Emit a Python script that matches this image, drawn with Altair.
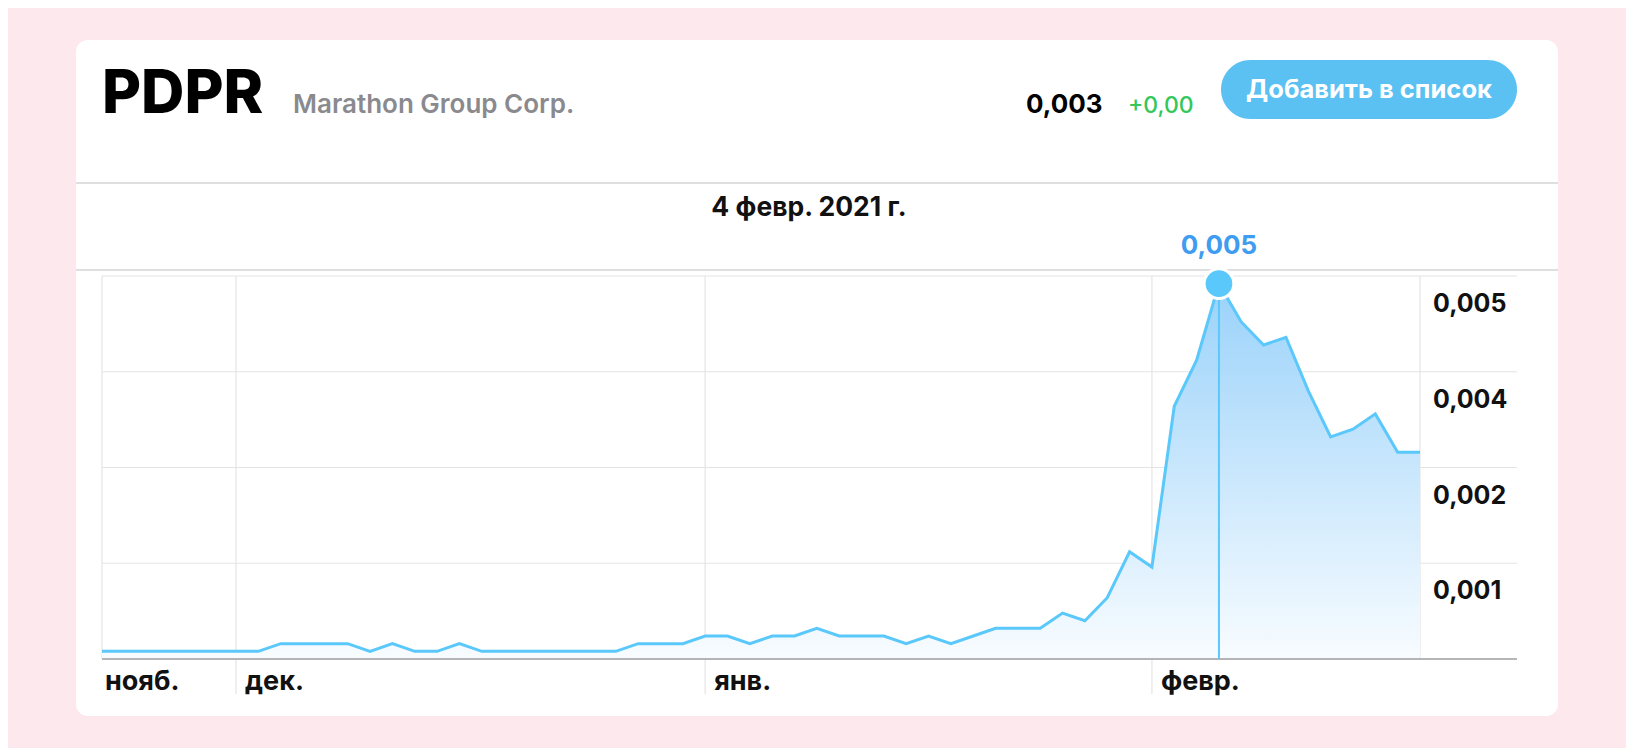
import altair as alt
import pandas as pd

# ---- data ----
prices = [
    0.0001, 0.0001, 0.0001, 0.0001, 0.0001, 0.0001, 0.0001, 0.0001,
    0.0002, 0.0002, 0.0002, 0.0002, 0.0001, 0.0002, 0.0001, 0.0001,
    0.0002, 0.0001, 0.0001, 0.0001, 0.0001, 0.0001, 0.0001, 0.0001,
    0.0002, 0.0002, 0.0002, 0.0003, 0.0003, 0.0002, 0.0003, 0.0003,
    0.0004, 0.0003, 0.0003, 0.0003, 0.0002, 0.0003, 0.0002, 0.0003,
    0.0004, 0.0004, 0.0004, 0.0006, 0.0005, 0.0008, 0.0014, 0.0012,
    0.0033, 0.0039, 0.0049, 0.0044, 0.0041, 0.0042, 0.0035, 0.0029,
    0.0030, 0.0032, 0.0027, 0.0027,
]
month_idx = [0, 6, 27, 47]
month_names = ["нояб.", "дек.", "янв.", "февр."]
y_ticks = [0.00125, 0.0025, 0.00375, 0.005]
y_tick_labels = ["0,001", "0,002", "0,004", "0,005"]
peak_idx = 50
peak_label = "0,005"
ticker = "PDPR"
company = "Marathon Group Corp."
last_price = "0,003"
change = "+0,00"
button_text = "Добавить в список"
date_text = "4 февр. 2021 г."

FONT = "Inter"
LINE_COLOR = "#5ac8fa"

df = pd.DataFrame({"i": list(range(len(prices))), "price": prices})
peak_df = pd.DataFrame({"i": [peak_idx], "price": [prices[peak_idx]], "label": [peak_label]})
first_month_df = pd.DataFrame({"i": month_idx[:1], "name": month_names[:1]})
other_months_df = pd.DataFrame({"i": month_idx[1:], "name": month_names[1:]})
edges_df = pd.DataFrame({"i": [0, len(prices) - 1]})
ygrid_df = pd.DataFrame({"v": y_ticks, "label": y_tick_labels})
zero_df = pd.DataFrame({"v": [0.0]})
one = pd.DataFrame({"k": [0]})

W, H = 1618, 740
xs = alt.Scale(domain=[0, len(prices) - 1], range=[94, 1412], nice=False, zero=False)
ys = alt.Scale(domain=[0, 0.005], range=[651, 268], nice=False, zero=False)

card = alt.Chart(one).mark_rect(fill="white", cornerRadius=12).encode(
    x=alt.value(68), x2=alt.value(1550), y=alt.value(32), y2=alt.value(708))

sep1 = alt.Chart(one).mark_rule(color="#d4d4d8", strokeWidth=1.5).encode(
    x=alt.value(68), x2=alt.value(1550), y=alt.value(175))
sep2 = alt.Chart(one).mark_rule(color="#d4d4d8", strokeWidth=1.5).encode(
    x=alt.value(68), x2=alt.value(1550), y=alt.value(262))

hgrid = alt.Chart(ygrid_df).mark_rule(color="#e4e4e6", strokeWidth=1.2).encode(
    y=alt.Y("v:Q", scale=ys, axis=None), x=alt.value(94), x2=alt.value(1509))

vgrid = alt.Chart(other_months_df).mark_rule(color="#e4e4e6", strokeWidth=1.2).encode(
    x=alt.X("i:Q", scale=xs, axis=None), y=alt.value(268), y2=alt.value(686))
vedges = alt.Chart(edges_df).mark_rule(color="#e4e4e6", strokeWidth=1.2).encode(
    x=alt.X("i:Q", scale=xs, axis=None), y=alt.value(268), y2=alt.value(651))

area = alt.Chart(df).mark_area(
    color=alt.Gradient(
        gradient="linear",
        stops=[alt.GradientStop(color="#9ad2fa", offset=0),
               alt.GradientStop(color="#f8fcff", offset=1)],
        x1=1, x2=1, y1=0, y2=1),
).encode(x=alt.X("i:Q", scale=xs, axis=None), y=alt.Y("price:Q", scale=ys, axis=None))

line = alt.Chart(df).mark_line(color=LINE_COLOR, strokeWidth=3, strokeJoin="miter").encode(
    x=alt.X("i:Q", scale=xs, axis=None), y=alt.Y("price:Q", scale=ys, axis=None))

baseline = alt.Chart(zero_df).mark_rule(color="#9c9ca0", strokeWidth=1.6).encode(
    y=alt.Y("v:Q", scale=ys, axis=None), x=alt.value(94), x2=alt.value(1509))

hover_rule = alt.Chart(peak_df).mark_rule(color=LINE_COLOR, strokeWidth=2).encode(
    x=alt.X("i:Q", scale=xs, axis=None), y=alt.Y("price:Q", scale=ys, axis=None), y2=alt.value(651))

hover_dot = alt.Chart(peak_df).mark_circle(size=880, color=LINE_COLOR, opacity=1,
                                           stroke="white", strokeWidth=3).encode(
    x=alt.X("i:Q", scale=xs, axis=None), y=alt.Y("price:Q", scale=ys, axis=None))

hover_text = alt.Chart(peak_df).mark_text(font=FONT, fontSize=26, fontWeight="bold",
                                          color="#409cf0", align="center", baseline="middle").encode(
    x=alt.X("i:Q", scale=xs, axis=None), y=alt.value(238), text="label:N")

ylabels = alt.Chart(ygrid_df).mark_text(font=FONT, fontSize=25, fontWeight="bold", color="#111111",
                                        align="left", baseline="middle", dy=28).encode(
    y=alt.Y("v:Q", scale=ys, axis=None), x=alt.value(1425), text="label:N")

xlabels_first = alt.Chart(first_month_df).mark_text(font=FONT, fontSize=27, fontWeight="bold",
                                                    color="#111111", align="left", baseline="middle",
                                                    dx=3).encode(
    x=alt.X("i:Q", scale=xs, axis=None), y=alt.value(674), text="name:N")
xlabels = alt.Chart(other_months_df).mark_text(font=FONT, fontSize=27, fontWeight="bold",
                                               color="#111111", align="left", baseline="middle",
                                               dx=9).encode(
    x=alt.X("i:Q", scale=xs, axis=None), y=alt.value(674), text="name:N")

def label(text, x, y, size, color, weight="bold", align="left", baseline="alphabetic"):
    return alt.Chart(one).mark_text(text=text, font=FONT, fontSize=size, fontWeight=weight,
                                    color=color, align=align, baseline=baseline).encode(
        x=alt.value(x), y=alt.value(y))

t_ticker = label(ticker, 94, 104.5, 60, "#000000", weight=800)
t_company = label(company, 285, 104.5, 26, "#8a8a8e", weight=600)
t_price = label(last_price, 1018, 104.5, 26, "#000000")
t_change = label(change, 1120, 104.5, 23, "#34c759", weight=500)

button = alt.Chart(one).mark_rect(fill="#5bc1f2", cornerRadius=29.5).encode(
    x=alt.value(1213), x2=alt.value(1509), y=alt.value(52), y2=alt.value(111))
t_button = label(button_text, 1361, 82, 25.5, "#ffffff", align="center", baseline="middle")
t_date = label(date_text, 801, 200, 26.5, "#111111", align="center", baseline="middle")

chart = alt.layer(
    card, sep1, sep2, hgrid, vgrid, vedges, area, line, baseline,
    hover_rule, hover_dot, hover_text, ylabels, xlabels_first, xlabels,
    t_ticker, t_company, t_price, t_change, button, t_button, t_date,
).properties(
    width=W, height=H, padding=0,
    autosize=alt.AutoSizeParams(type="none"),
    background="#fde9ed",
).configure_view(stroke=None)

chart.save("out.html", embed_options={"renderer": "svg", "actions": False})
